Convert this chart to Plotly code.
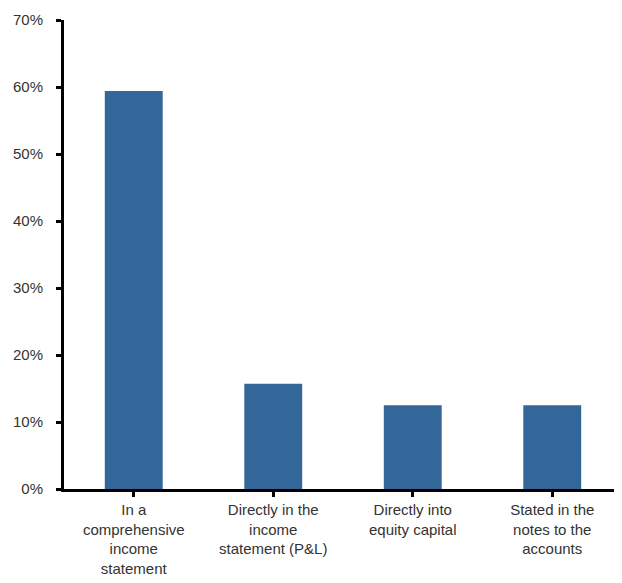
import plotly.graph_objects as go

categories = ["In a<br>comprehensive<br>income<br>statement",
              "Directly in the<br>income<br>statement (P&L)",
              "Directly into<br>equity capital",
              "Stated in the<br>notes to the<br>accounts"]
values = [0.594, 0.157, 0.125, 0.125]
y_ticks = [0, 0.1, 0.2, 0.3, 0.4, 0.5, 0.6, 0.7]
y_labels = ["0%", "10%", "20%", "30%", "40%", "50%", "60%", "70%"]

fig = go.Figure(go.Bar(x=list(range(len(categories))), y=values,
                       marker=dict(color="#336699", line=dict(width=0))))
fig.update_layout(
    width=622, height=583,
    margin=dict(l=56, r=8, t=12, b=102),
    paper_bgcolor="white", plot_bgcolor="white",
    bargap=0.585, showlegend=False,
    font=dict(family="Liberation Sans, Arial, sans-serif", color="#333333"),
)
fig.update_xaxes(
    tickvals=list(range(len(categories))), ticktext=categories,
    range=[-0.5, 3.5], showline=True, linecolor="black", linewidth=3,
    ticks="outside", tickson="boundaries", ticklen=5, tickwidth=3, tickcolor="black",
    tickfont=dict(size=15, color="#333333"), showgrid=False, zeroline=False,
    automargin=False,
)
fig.update_yaxes(
    range=[0, 0.7], tickvals=y_ticks, ticktext=y_labels,
    showline=True, linecolor="black", linewidth=3,
    ticks="outside", ticklen=5, tickwidth=3, tickcolor="black",
    tickfont=dict(size=15, color="#333333"), showgrid=False, zeroline=False,
    ticklabelstandoff=10, automargin=False,
)
fig.write_html("out.html")
